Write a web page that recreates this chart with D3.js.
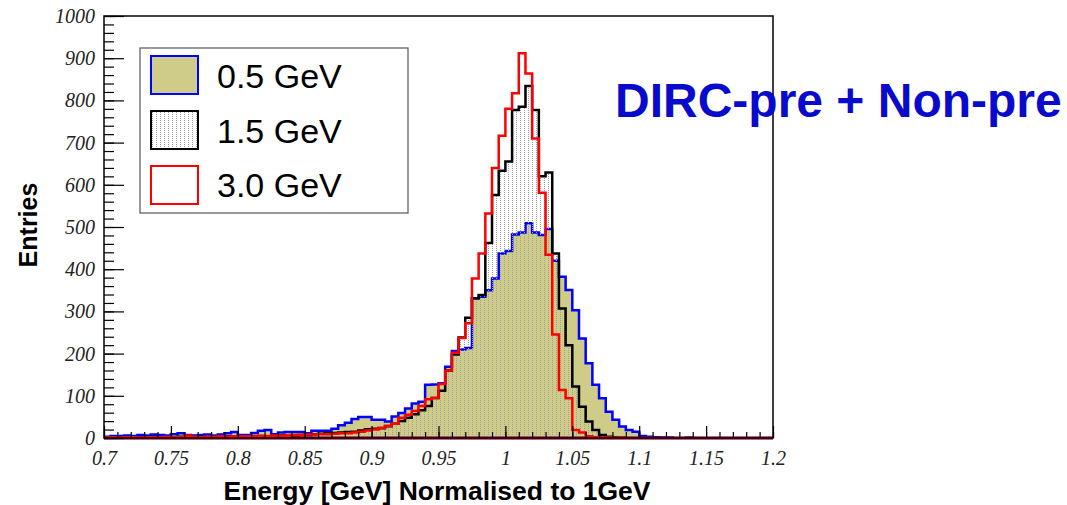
<!DOCTYPE html>
<html>
<head>
<meta charset="utf-8">
<script src="https://cdn.jsdelivr.net/npm/d3@7"></script>
<style>
  html, body { margin: 0; padding: 0; background: #fff; }
</style>
</head>
<body>
<svg id="chart"></svg>
<script>
// 1. Data: 100 bins of width 0.005 from 0.7 to 1.2
const binLow = 0.7;
const binWidth = 0.005;

const entries05 = [
  3, 5, 5, 6, 5, 7, 6, 8, 7, 6,
  9, 11, 7, 6, 7, 8, 6, 8, 11, 14,
  7, 7, 12, 17, 19, 9, 13, 14, 14, 14,
  11, 17, 17, 17, 22, 30, 36, 45, 50, 50,
  43, 43, 39, 51, 59, 70, 82, 86, 126, 127,
  130, 169, 206, 210, 213, 331, 335, 350, 378, 437,
  443, 482, 487, 509, 487, 481, 495, 420, 382, 351,
  303, 236, 177, 126, 94, 62, 43, 27, 19, 15,
  5, 3, 2, 1, 1, 0, 0, 1, 0, 0,
  0, 0, 0, 0, 0, 0, 0, 0, 0, 0
];

const entries15 = [
  2, 1, 2, 2, 1, 2, 2, 3, 2, 2,
  2, 3, 2, 3, 3, 2, 3, 3, 4, 3,
  4, 4, 3, 5, 4, 5, 6, 5, 6, 7,
  7, 9, 10, 12, 12, 13, 14, 15, 18, 21,
  22, 23, 28, 34, 40, 48, 56, 66, 76, 95,
  112, 160, 198, 238, 285, 331, 339, 462, 576, 633,
  655, 777, 785, 834, 777, 620, 629, 437, 307, 220,
  122, 74, 39, 19, 7, 3, 1, 1, 0, 0,
  0, 0, 0, 0, 0, 0, 0, 0, 0, 0,
  0, 0, 0, 0, 0, 0, 0, 0, 0, 0
];

const entries30 = [
  1, 2, 1, 2, 2, 1, 2, 2, 2, 3,
  2, 2, 6, 3, 2, 3, 3, 4, 3, 4,
  4, 4, 5, 5, 5, 6, 6, 6, 7, 7,
  8, 8, 9, 9, 10, 11, 11, 13, 15, 18,
  20, 24, 29, 34, 48, 55, 64, 76, 92, 95,
  128, 160, 202, 237, 272, 378, 437, 532, 640, 716,
  780, 817, 912, 864, 710, 581, 434, 245, 114, 94,
  19, 13, 4, 2, 1, 1, 0, 1, 0, 0,
  0, 0, 0, 0, 0, 0, 0, 0, 0, 0,
  0, 0, 0, 0, 0, 0, 0, 0, 0, 0
];

const legendLabels = ["0.5 GeV", "1.5 GeV", "3.0 GeV"];
const xTicks = [0.7, 0.75, 0.8, 0.85, 0.9, 0.95, 1, 1.05, 1.1, 1.15, 1.2];
const yTicks = [0, 100, 200, 300, 400, 500, 600, 700, 800, 900, 1000];

// 2. SVG setup
const W = 1067, H = 505;
const svg = d3.select("#chart").attr("width", W).attr("height", H);

const frame = { left: 104, right: 773, top: 16, bottom: 438 };

const x = d3.scaleLinear().domain([0.7, 1.2]).range([frame.left, frame.right]);
const y = d3.scaleLinear().domain([0, 1000]).range([frame.bottom, frame.top]);

const defs = svg.append("defs");
defs.append("clipPath").attr("id", "plot-clip")
  .append("rect")
  .attr("x", frame.left).attr("y", frame.top - 2)
  .attr("width", frame.right - frame.left)
  .attr("height", frame.bottom - frame.top + 4);

// dotted fill like ROOT fill style 3001
const pat = defs.append("pattern")
  .attr("id", "dots")
  .attr("patternUnits", "userSpaceOnUse")
  .attr("width", 4).attr("height", 2);
pat.append("rect").attr("width", 1).attr("height", 1).attr("fill", "#a0a0a0");

const khaki = "#cfcc8a";

// 3. Histograms
function stepPoints(vals) {
  const pts = [[binLow, 0]];
  vals.forEach((v, i) => pts.push([binLow + i * binWidth, v]));
  const end = binLow + vals.length * binWidth;
  pts.push([end, vals[vals.length - 1]]);
  pts.push([end, 0]);
  return pts;
}

const step = d3.line()
  .x((d) => x(d[0]))
  .y((d) => y(d[1]))
  .curve(d3.curveStepAfter);

const plot = svg.append("g").attr("clip-path", "url(#plot-clip)");

const hists = [
  { vals: entries05, fill: khaki, stroke: "#0000ff" },
  { vals: entries15, fill: "url(#dots)", stroke: "#000000" },
  { vals: entries30, fill: "none", stroke: "#ff0000" },
];

hists.forEach((h) => {
  plot.append("path")
    .attr("d", step(stepPoints(h.vals)) + "Z")
    .attr("fill", h.fill)
    .attr("stroke", h.stroke)
    .attr("stroke-width", 2.5)
    .attr("stroke-linejoin", "miter");
});

// 4. Frame and axes (ticks drawn inside, ROOT style)
svg.append("rect")
  .attr("x", frame.left).attr("y", frame.top)
  .attr("width", frame.right - frame.left)
  .attr("height", frame.bottom - frame.top)
  .attr("fill", "none")
  .attr("stroke", "#000")
  .attr("stroke-width", 1.5);

const serif = "'Liberation Serif', 'DejaVu Serif', serif";
const sans = "'Liberation Sans', Arial, Helvetica, sans-serif";

const xMinor = d3.range(70, 121).map((d) => d / 100);
svg.append("g")
  .attr("transform", `translate(0,${frame.bottom})`)
  .call(d3.axisBottom(x).tickValues(xMinor).tickSize(-6).tickFormat(""))
  .call((g) => g.select(".domain").remove());

svg.append("g")
  .attr("class", "x-axis")
  .attr("transform", `translate(0,${frame.bottom})`)
  .call(d3.axisBottom(x).tickValues(xTicks).tickSize(-12).tickPadding(13)
    .tickFormat((d) => String(d)))
  .call((g) => g.select(".domain").remove());

const yMinor = d3.range(0, 1001, 20);
svg.append("g")
  .attr("transform", `translate(${frame.left},0)`)
  .call(d3.axisLeft(y).tickValues(yMinor).tickSize(-10).tickFormat(""))
  .call((g) => g.select(".domain").remove());

svg.append("g")
  .attr("class", "y-axis")
  .attr("transform", `translate(${frame.left},0)`)
  .call(d3.axisLeft(y).tickValues(yTicks).tickSize(-20).tickPadding(9)
    .tickFormat((d) => String(d)))
  .call((g) => g.select(".domain").remove());

svg.selectAll(".tick line").attr("stroke", "#000").attr("stroke-width", 1.2);
svg.selectAll(".x-axis text, .y-axis text")
  .attr("font-family", serif)
  .attr("font-style", "italic")
  .attr("font-size", "20px")
  .attr("fill", "#222");

// 5. Axis titles
svg.append("text")
  .attr("x", 437).attr("y", 500)
  .attr("text-anchor", "middle")
  .attr("font-family", sans)
  .attr("font-weight", "bold")
  .attr("font-size", "26.5px")
  .text("Energy [GeV] Normalised to 1GeV");

svg.append("text")
  .attr("transform", "translate(37,225) rotate(-90)")
  .attr("text-anchor", "middle")
  .attr("font-family", sans)
  .attr("font-weight", "bold")
  .attr("font-size", "25px")
  .text("Entries");

// 6. Legend
const legend = svg.append("g");
legend.append("rect")
  .attr("x", 140).attr("y", 48)
  .attr("width", 268).attr("height", 165)
  .attr("fill", "#fff")
  .attr("stroke", "#555")
  .attr("stroke-width", 1.2);

const boxTops = [56, 111, 166];
const baselines = [88, 143, 197];
hists.forEach((h, i) => {
  legend.append("rect")
    .attr("x", 151).attr("y", boxTops[i])
    .attr("width", 47).attr("height", 38)
    .attr("fill", h.fill === "none" ? "#fff" : h.fill)
    .attr("stroke", h.stroke)
    .attr("stroke-width", 2);
  legend.append("text")
    .attr("x", 217).attr("y", baselines[i])
    .attr("font-family", sans)
    .attr("font-size", "34px")
    .attr("fill", "#000")
    .text(legendLabels[i]);
});

// 7. Annotation
svg.append("text")
  .attr("x", 615).attr("y", 117)
  .attr("font-family", sans)
  .attr("font-weight", "bold")
  .attr("font-size", "48px")
  .attr("fill", "#0a0acc")
  .text("DIRC-pre + Non-pre");
</script>
</body>
</html>
